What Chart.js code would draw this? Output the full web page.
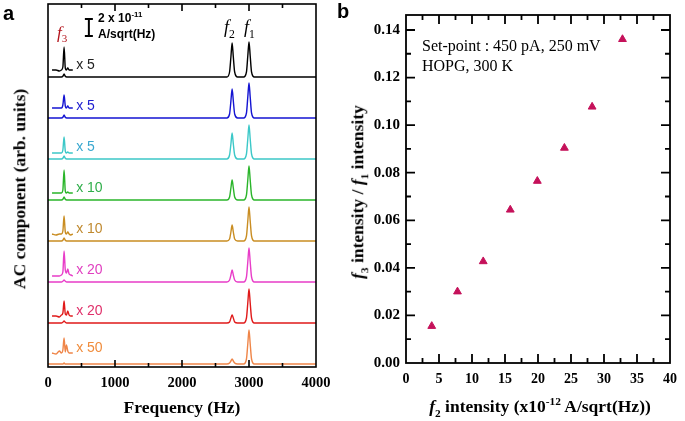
<!DOCTYPE html>
<html lang="en">
<head>
  <meta charset="UTF-8">
  <title>AC component spectra and f3 / f1 intensity</title>
  <script src="https://cdn.jsdelivr.net/npm/chart.js"></script>
  <style>
    body { margin: 0; background: #fff; }
    #figure { position: relative; width: 685px; height: 421px; overflow: hidden; }
    .panel { position: absolute; top: 0; }
    .txt { position: absolute; white-space: nowrap; line-height: 1; color: #000; }
    .serif { font-family: "Liberation Serif", "Times New Roman", serif; }
    .sans { font-family: "Liberation Sans", Arial, sans-serif; }
    .mid { transform: translate(-50%, -50%); }
    .vmid { transform: translateY(-50%); }
    .rot { transform: translate(-50%, -50%) rotate(-90deg); }
    sub, sup { font-size: 65%; line-height: 0; }
    i sub { font-style: normal; }
  </style>
</head>
<body>
<div id="figure">
  <canvas id="chartA" class="panel" width="340" height="421" style="left:0"></canvas>
  <canvas id="chartB" class="panel" width="345" height="421" style="left:340px"></canvas>

  <div class="txt sans" style="left:3px;top:3px;font-size:20px;font-weight:bold">a</div>
  <div class="txt sans" style="left:337px;top:1px;font-size:20px;font-weight:bold">b</div>

  <!-- panel a annotations -->
  <div class="txt serif vmid" style="left:57px;top:32px;font-size:17px;color:#b3141c"><i>f<sub>3</sub></i></div>
  <div class="txt sans vmid" style="left:98px;top:18px;font-size:12px;font-weight:bold">2 x 10<sup>-11</sup></div>
  <div class="txt sans vmid" style="left:98px;top:34px;font-size:12px;font-weight:bold">A/sqrt(Hz)</div>
  <div class="txt serif vmid" style="left:224px;top:27px;font-size:18px"><i>f<sub>2</sub></i></div>
  <div class="txt serif vmid" style="left:244px;top:27px;font-size:18px"><i>f<sub>1</sub></i></div>
  <div class="txt serif rot" style="left:20px;top:189px;font-size:17.5px;font-weight:bold">AC component (arb. units)</div>
  <div class="txt serif mid" style="left:182px;top:408px;font-size:17.5px;font-weight:bold">Frequency (Hz)</div>

  <!-- panel b annotations -->
  <div class="txt serif vmid" style="left:422px;top:46px;font-size:16px">Set-point : 450 pA, 250 mV</div>
  <div class="txt serif vmid" style="left:422px;top:66px;font-size:16px">HOPG, 300 K</div>
  <div class="txt serif rot" style="left:358px;top:192px;font-size:17.5px;font-weight:bold"><i>f</i><sub>3</sub> intensity / <i>f</i><sub>1</sub> intensity</div>
  <div class="txt serif mid" style="left:540px;top:407px;font-size:17.5px;font-weight:bold"><i>f</i><sub>2</sub> intensity (x10<sup>-12</sup> A/sqrt(Hz))</div>
</div>

<script>
  // ---- panel a : spectra (arb. units, one unit ~ one pixel) ----
  const freqHz = [0, 200, 225, 240, 255, 280, 1000, 2000, 2670, 2710, 2730, 2748, 2766, 2786, 2830, 2920, 2962, 2982, 3000, 3018, 3038, 3080, 4000];
  const spBlack   = [0, 0, 1, 3, 1, 0, 0, 0, 0, 5, 20, 34, 20, 5, 0, 0, 5, 21, 35, 21, 5, 0, 0];
  const spBlue    = [0, 0, 1, 3, 1, 0, 0, 0, 0, 4, 17, 29, 17, 4, 0, 0, 5, 21, 35, 21, 5, 0, 0];
  const spCyan    = [0, 0, 1, 3, 1, 0, 0, 0, 0, 4, 15, 26, 15, 4, 0, 0, 5, 20, 34, 20, 5, 0, 0];
  const spGreen   = [0, 0, 1, 3, 1, 0, 0, 0, 0, 3, 12, 20, 12, 3, 0, 0, 5, 20, 34, 20, 5, 0, 0];
  const spBrown   = [0, 0, 1, 3, 1, 0, 0, 0, 0, 2, 9, 16, 9, 2, 0, 0, 5, 20, 34, 20, 5, 0, 0];
  const spMagenta = [0, 0, 1, 2, 1, 0, 0, 0, 0, 2, 7, 12, 7, 2, 0, 0, 5, 20, 34, 20, 5, 0, 0];
  const spRed     = [0, 0, 1, 2, 1, 0, 0, 0, 0, 1, 5, 8, 5, 1, 0, 0, 5, 20, 34, 20, 5, 0, 0];
  const spOrange  = [0, 0, 0, 1, 0, 0, 0, 0, 0, 1, 3, 5, 3, 1, 0, 0, 5, 20, 34, 20, 5, 0, 0];

  // magnified f3 region drawn above each baseline
  const zoomHz = [60, 120, 170, 200, 222, 240, 258, 275, 295, 315, 340, 370];
  const zmBlack   = [7, 7, 6, 7, 10, 30, 9, 7, 9, 7, 7, 7];
  const zmBlue    = [10, 10, 10, 10, 13, 23, 12, 10, 12, 10, 10, 10];
  const zmCyan    = [6, 6, 6, 6, 9, 22, 8, 6, 7, 6, 6, 6];
  const zmGreen   = [7, 7, 7, 7, 10, 30, 9, 7, 8, 7, 7, 7];
  const zmBrown   = [7, 6, 7, 7, 10, 25, 9, 7, 9, 7, 6, 7];
  const zmMagenta = [6, 6, 6, 7, 10, 31, 12, 9, 13, 8, 7, 6];
  const zmRed     = [7, 7, 6, 8, 10, 22, 9, 8, 12, 8, 7, 7];
  const zmOrange  = [11, 10, 13, 11, 14, 26, 12, 19, 13, 11, 11, 11];

  const gains = ['x 5', 'x 5', 'x 5', 'x 10', 'x 10', 'x 20', 'x 20', 'x 50'];
  const lineColors  = ['#000000', '#1414d2', '#3cc8c8', '#2ab52a', '#c98d22', '#e83dc8', '#e01a1a', '#ef8548'];
  const labelColors = ['#222222', '#1e1ed0', '#3aa8d0', '#2fae4a', '#c08a30', '#e040c0', '#e0306a', '#f08c3c'];

  // ---- panel b : ratio vs f2 intensity ----
  const f2Intensity = [3.9, 7.8, 11.7, 15.8, 19.9, 24.0, 28.2, 32.8];
  const ratio = [0.0155, 0.0300, 0.0427, 0.0644, 0.0765, 0.0904, 0.1077, 0.1361];

  const spectra = [spBlack, spBlue, spCyan, spGreen, spBrown, spMagenta, spRed, spOrange];
  const zooms = [zmBlack, zmBlue, zmCyan, zmGreen, zmBrown, zmMagenta, zmRed, zmOrange];
  const baseOf = k => 3 + (7 - k) * 41;

  const serif = '"Liberation Serif", "Times New Roman", serif';

  // frame with inward ticks on all four sides
  const boxTicks = {
    id: 'boxTicks',
    afterDatasetsDraw(chart, args, o) {
      const { ctx, chartArea: a } = chart;
      const xs = chart.scales.x, ys = chart.scales.y;
      ctx.save();
      ctx.strokeStyle = '#000';
      ctx.lineWidth = o.lw;
      ctx.beginPath();
      for (let v = xs.min + o.xMinor; v < xs.max - 1e-9; v += o.xMinor) {
        const major = Math.abs(v / o.xMajor - Math.round(v / o.xMajor)) < 1e-6;
        const len = major ? o.major : o.minor;
        const px = xs.getPixelForValue(v);
        ctx.moveTo(px, a.bottom); ctx.lineTo(px, a.bottom - len);
        ctx.moveTo(px, a.top); ctx.lineTo(px, a.top + len);
      }
      if (o.yMinor) {
        for (let v = ys.min + o.yMinor; v < ys.max - 1e-9; v += o.yMinor) {
          const major = Math.abs(v / o.yMajor - Math.round(v / o.yMajor)) < 1e-6;
          const len = major ? o.major : o.minor;
          const py = ys.getPixelForValue(v);
          ctx.moveTo(a.left, py); ctx.lineTo(a.left + len, py);
          ctx.moveTo(a.right, py); ctx.lineTo(a.right - len, py);
        }
      }
      ctx.stroke();
      ctx.strokeRect(a.left, a.top, a.width, a.height);
      ctx.restore();
    }
  };

  // scale bar and gain labels of panel a
  const spectraNotes = {
    id: 'spectraNotes',
    afterDatasetsDraw(chart) {
      const { ctx } = chart;
      const xs = chart.scales.x, ys = chart.scales.y;
      ctx.save();
      const bx = xs.getPixelForValue(610);
      const y1 = ys.getPixelForValue(348), y2 = ys.getPixelForValue(331);
      ctx.strokeStyle = '#000';
      ctx.lineWidth = 2;
      ctx.beginPath();
      ctx.moveTo(bx, y1); ctx.lineTo(bx, y2);
      ctx.moveTo(bx - 4, y1); ctx.lineTo(bx + 4, y1);
      ctx.moveTo(bx - 4, y2); ctx.lineTo(bx + 4, y2);
      ctx.stroke();
      ctx.font = '14px "Liberation Sans", Arial, sans-serif';
      ctx.textBaseline = 'middle';
      gains.forEach((g, k) => {
        ctx.fillStyle = labelColors[k];
        const lift = k === 7 ? 16 : 12;
        ctx.fillText(g, xs.getPixelForValue(420), ys.getPixelForValue(baseOf(k) + lift));
      });
      ctx.restore();
    }
  };

  const datasetsA = [];
  spectra.forEach((sp, k) => {
    datasetsA.push({
      data: freqHz.map((f, i) => ({ x: f, y: baseOf(k) + sp[i] })),
      borderColor: lineColors[k], borderWidth: 1.4, pointRadius: 0,
      cubicInterpolationMode: 'monotone', fill: false
    });
    datasetsA.push({
      data: zoomHz.map((f, i) => ({ x: f, y: baseOf(k) + zooms[k][i] })),
      borderColor: lineColors[k], borderWidth: 1.4, pointRadius: 0,
      cubicInterpolationMode: 'monotone', fill: false
    });
  });

  new Chart(document.getElementById('chartA'), {
    type: 'line',
    data: { datasets: datasetsA },
    options: {
      responsive: false,
      animation: false,
      layout: { padding: { left: 48, right: 24, top: 4, bottom: 24 } },
      plugins: {
        legend: { display: false },
        tooltip: { enabled: false },
        boxTicks: { lw: 1.6, xMajor: 1000, xMinor: 500, major: 7, minor: 4 }
      },
      scales: {
        x: {
          type: 'linear', min: 0, max: 4000,
          afterFit(s) { s.height = 30; },
          grid: { display: false, drawTicks: false },
          border: { display: false },
          ticks: { stepSize: 1000, padding: 8, autoSkip: false, maxRotation: 0,
                   font: { family: serif, weight: 'bold', size: 14.5 }, color: '#000',
                   callback: v => String(v) }
        },
        y: { display: false, min: 0, max: 363 }
      }
    },
    plugins: [boxTicks, spectraNotes]
  });

  new Chart(document.getElementById('chartB'), {
    type: 'scatter',
    data: {
      datasets: [{
        data: f2Intensity.map((x, i) => ({ x: x, y: ratio[i] })),
        pointStyle: 'triangle', pointRadius: 4.5, borderWidth: 1,
        backgroundColor: '#c5115a', borderColor: '#c5115a'
      }]
    },
    options: {
      responsive: false,
      animation: false,
      layout: { padding: { left: 0, right: 11, top: 13, bottom: 28 } },
      plugins: {
        legend: { display: false },
        tooltip: { enabled: false },
        boxTicks: { lw: 1.8, xMajor: 5, xMinor: 2.5, yMajor: 0.02, yMinor: 0.01, major: 9, minor: 5 }
      },
      scales: {
        x: {
          type: 'linear', min: 0, max: 40,
          afterFit(s) { s.height = 30; },
          grid: { display: false, drawTicks: false },
          border: { display: false },
          ticks: { stepSize: 5, padding: 8, autoSkip: false, maxRotation: 0, includeBounds: false,
                   font: { family: serif, weight: 'bold', size: 14 }, color: '#000' }
        },
        y: {
          min: 0, max: 0.1463,
          afterFit(s) { s.width = 66; },
          grid: { display: false, drawTicks: false },
          border: { display: false },
          ticks: { stepSize: 0.02, padding: 6, autoSkip: false, includeBounds: false,
                   font: { family: serif, weight: 'bold', size: 15 }, color: '#000',
                   callback: v => v.toFixed(2) }
        }
      }
    },
    plugins: [boxTicks]
  });
</script>
</body>
</html>
